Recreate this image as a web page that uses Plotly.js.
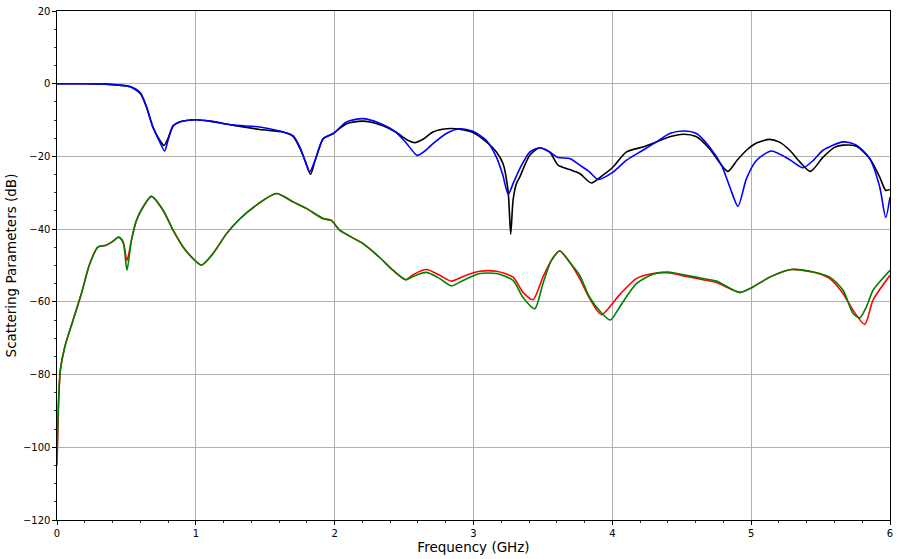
<!DOCTYPE html>
<html>
<head>
<meta charset="utf-8">
<script src="https://cdn.plot.ly/plotly-3.0.1.min.js"></script>
<style>html,body{margin:0;padding:0;background:#fff;}#chart{width:900px;height:559px;}</style>
</head>
<body>
<div id="chart"></div>
<script>
// Frequency (GHz) and S-parameter values (dB)
var fBlack = [0, 0.2, 0.35, 0.45, 0.525, 0.6, 0.644, 0.69, 0.74, 0.771, 0.80, 0.836, 0.88, 0.932, 1.004, 1.1, 1.268, 1.46, 1.63, 1.70, 1.75, 1.79, 1.826, 1.86, 1.918, 1.99, 2.085, 2.2, 2.32, 2.44, 2.52, 2.577, 2.64, 2.708, 2.805, 2.90, 2.996, 3.093, 3.165, 3.213, 3.249, 3.268, 3.285, 3.309, 3.333, 3.405, 3.477, 3.549, 3.609, 3.693, 3.765, 3.849, 3.92, 4.005, 4.10, 4.22, 4.318, 4.413, 4.509, 4.606, 4.70, 4.786, 4.833, 4.90, 4.966, 5.038, 5.134, 5.20, 5.278, 5.35, 5.427, 5.518, 5.60, 5.662, 5.758, 5.854, 5.926, 5.969, 6.0];
var sBlack = [0, 0, -0.1, -0.4, -0.8, -2.7, -6.4, -11.9, -15.5, -17.0, -15.0, -11.6, -10.6, -10.1, -9.9, -10.3, -11.4, -12.6, -13.3, -14.5, -17.8, -21.5, -24.9, -21.0, -15.1, -13.7, -11.0, -10.3, -11.2, -13.3, -15.4, -16.2, -15.2, -13.3, -12.4, -12.5, -13.4, -16.0, -18.8, -22.0, -29.5, -41.4, -32.0, -27.5, -25.7, -19.7, -17.6, -18.8, -22.4, -23.6, -24.7, -27.3, -25.5, -22.9, -18.8, -17.4, -16.0, -14.6, -13.9, -14.6, -17.9, -22.4, -24.1, -21.0, -18.3, -16.3, -15.3, -16.0, -18.3, -21.5, -24.1, -20.2, -17.5, -16.9, -17.2, -20.6, -25.7, -29.3, -29.1];

var fBlue = [0, 0.2, 0.35, 0.45, 0.525, 0.6, 0.644, 0.69, 0.74, 0.775, 0.80, 0.836, 0.88, 0.932, 1.004, 1.1, 1.268, 1.46, 1.63, 1.70, 1.75, 1.79, 1.82, 1.86, 1.918, 1.99, 2.085, 2.2, 2.32, 2.44, 2.52, 2.594, 2.65, 2.708, 2.805, 2.90, 2.996, 3.093, 3.165, 3.21, 3.25, 3.29, 3.333, 3.405, 3.477, 3.549, 3.609, 3.693, 3.765, 3.837, 3.897, 4.005, 4.10, 4.22, 4.318, 4.413, 4.509, 4.606, 4.70, 4.786, 4.846, 4.905, 4.966, 5.038, 5.146, 5.278, 5.373, 5.45, 5.518, 5.662, 5.758, 5.854, 5.926, 5.969, 6.0];
var sBlue = [0, 0, -0.1, -0.4, -0.8, -2.5, -6.2, -11.8, -16.0, -18.5, -15.5, -11.6, -10.5, -10.1, -9.9, -10.3, -11.4, -11.9, -13.3, -14.3, -17.5, -21.5, -24.2, -21.0, -15.1, -13.7, -10.5, -9.6, -10.8, -13.3, -16.5, -19.7, -18.5, -16.5, -13.7, -12.4, -13.1, -15.6, -20.2, -25.0, -30.4, -27.0, -23.4, -18.8, -17.6, -18.8, -20.3, -20.6, -22.4, -24.3, -26.3, -24.3, -21.1, -18.3, -16.0, -13.7, -13.0, -13.7, -17.4, -22.4, -28.4, -33.7, -26.1, -21.1, -18.5, -20.9, -23.1, -21.0, -18.3, -16.0, -16.9, -20.6, -28.4, -36.8, -31.2];

var fRed = [0, 0.01, 0.024, 0.056, 0.115, 0.176, 0.236, 0.296, 0.356, 0.404, 0.444, 0.476, 0.504, 0.536, 0.572, 0.62, 0.68, 0.764, 0.836, 0.908, 0.98, 1.04, 1.124, 1.22, 1.316, 1.436, 1.58, 1.70, 1.796, 1.916, 1.976, 2.036, 2.204, 2.324, 2.42, 2.512, 2.565, 2.661, 2.757, 2.841, 2.925, 3.045, 3.165, 3.285, 3.357, 3.429, 3.5, 3.561, 3.621, 3.693, 3.765, 3.837, 3.921, 4.053, 4.173, 4.293, 4.401, 4.534, 4.653, 4.75, 4.918, 5.013, 5.134, 5.29, 5.446, 5.566, 5.662, 5.734, 5.818, 5.878, 6.0];
var sRed = [-105, -90, -78.8, -72.4, -65.1, -57.7, -49.5, -44.9, -44.4, -43.3, -42.2, -43.5, -48.6, -43.1, -37.6, -33.9, -31.0, -34.8, -40.3, -44.9, -48.1, -49.9, -46.7, -41.3, -37.2, -33.4, -30.2, -32.5, -34.3, -37.1, -37.6, -40.3, -44.0, -47.8, -51.3, -53.9, -52.5, -51.1, -52.7, -54.3, -53.0, -51.6, -51.6, -53.2, -57.4, -59.4, -53.2, -48.6, -46.0, -49.1, -53.6, -59.1, -63.5, -58.0, -53.6, -52.2, -52.0, -53.0, -53.9, -54.7, -57.4, -55.9, -53.2, -51.1, -51.8, -53.6, -57.7, -62.3, -66.2, -59.5, -52.7];

var fGreen = [0, 0.01, 0.024, 0.056, 0.115, 0.176, 0.236, 0.296, 0.356, 0.404, 0.444, 0.476, 0.504, 0.536, 0.572, 0.62, 0.68, 0.764, 0.836, 0.908, 0.98, 1.04, 1.124, 1.22, 1.316, 1.436, 1.58, 1.70, 1.796, 1.916, 1.976, 2.036, 2.204, 2.324, 2.42, 2.512, 2.565, 2.661, 2.757, 2.841, 2.925, 3.045, 3.165, 3.285, 3.357, 3.441, 3.5, 3.561, 3.621, 3.693, 3.765, 3.837, 3.921, 3.986, 4.053, 4.173, 4.293, 4.401, 4.534, 4.653, 4.75, 4.918, 5.013, 5.134, 5.29, 5.446, 5.566, 5.662, 5.734, 5.782, 5.83, 5.878, 6.0];
var sGreen = [-103, -88, -78.8, -72.4, -65.1, -57.7, -49.5, -44.9, -44.4, -43.3, -42.2, -43.5, -51.3, -43.1, -37.6, -33.9, -31.0, -34.8, -40.3, -44.9, -48.1, -49.9, -46.7, -41.3, -37.2, -33.4, -30.2, -32.5, -34.3, -37.1, -37.6, -40.3, -44.0, -47.8, -51.3, -53.9, -53.0, -51.9, -53.6, -55.6, -54.1, -52.2, -52.2, -54.1, -58.8, -61.9, -55.0, -48.6, -46.0, -49.1, -52.7, -58.8, -63.0, -65.0, -61.4, -55.0, -52.4, -51.8, -52.7, -53.6, -54.3, -57.4, -55.9, -53.2, -51.1, -51.8, -53.2, -56.8, -63.2, -64.4, -61.4, -56.8, -51.3];

var xTicks = [0, 1, 2, 3, 4, 5, 6];
var yTicks = [-120, -100, -80, -60, -40, -20, 0, 20];

function tr(x, y, color) {
  return {x: x, y: y, type: 'scatter', mode: 'lines',
    line: {color: color, width: 1.6, shape: 'spline', smoothing: 0.7},
    hoverinfo: 'skip', showlegend: false};
}

var data = [
  tr(fBlack, sBlack, '#000000'),
  tr(fBlue, sBlue, '#0000ff'),
  tr(fRed, sRed, '#ff0000'),
  tr(fGreen, sGreen, '#008000')
];

var axisCommon = {
  showline: true, linecolor: '#000', linewidth: 1.1, mirror: true,
  showgrid: true, gridcolor: '#b0b0b0', gridwidth: 1,
  zeroline: false, ticks: 'outside', ticklen: 3.5, tickwidth: 1, tickcolor: '#000',
  tickfont: {family: 'DejaVu Sans', size: 10, color: '#000'}
};

var layout = {
  width: 900, height: 559,
  margin: {l: 57, r: 10, t: 11, b: 39, pad: 0},
  paper_bgcolor: '#fff', plot_bgcolor: '#fff',
  font: {family: 'DejaVu Sans', color: '#000'},
  xaxis: Object.assign({}, axisCommon, {
    range: [0, 6], tickmode: 'array', tickvals: xTicks, ticktext: xTicks.map(String),
    minor: {dtick: 0.2, tick0: 0, ticks: 'outside', ticklen: 2, tickwidth: 0.8, tickcolor: '#000', showgrid: false},
    title: {text: 'Frequency (GHz)', font: {family: 'DejaVu Sans', size: 13.5, color: '#000'}, standoff: 3}
  }),
  yaxis: Object.assign({}, axisCommon, {
    range: [-120, 20], tickmode: 'array', tickvals: yTicks,
    ticktext: yTicks.map(function(v){ return v < 0 ? '\u2212' + Math.abs(v) : String(v); }),
    minor: {dtick: 5, tick0: 0, ticks: 'outside', ticklen: 2, tickwidth: 0.8, tickcolor: '#000', showgrid: false},
    title: {text: 'Scattering Parameters (dB)', font: {family: 'DejaVu Sans', size: 13.5, color: '#000'}, standoff: 3}
  })
};

Plotly.newPlot('chart', data, layout, {displayModeBar: false, staticPlot: true});
</script>
</body>
</html>
